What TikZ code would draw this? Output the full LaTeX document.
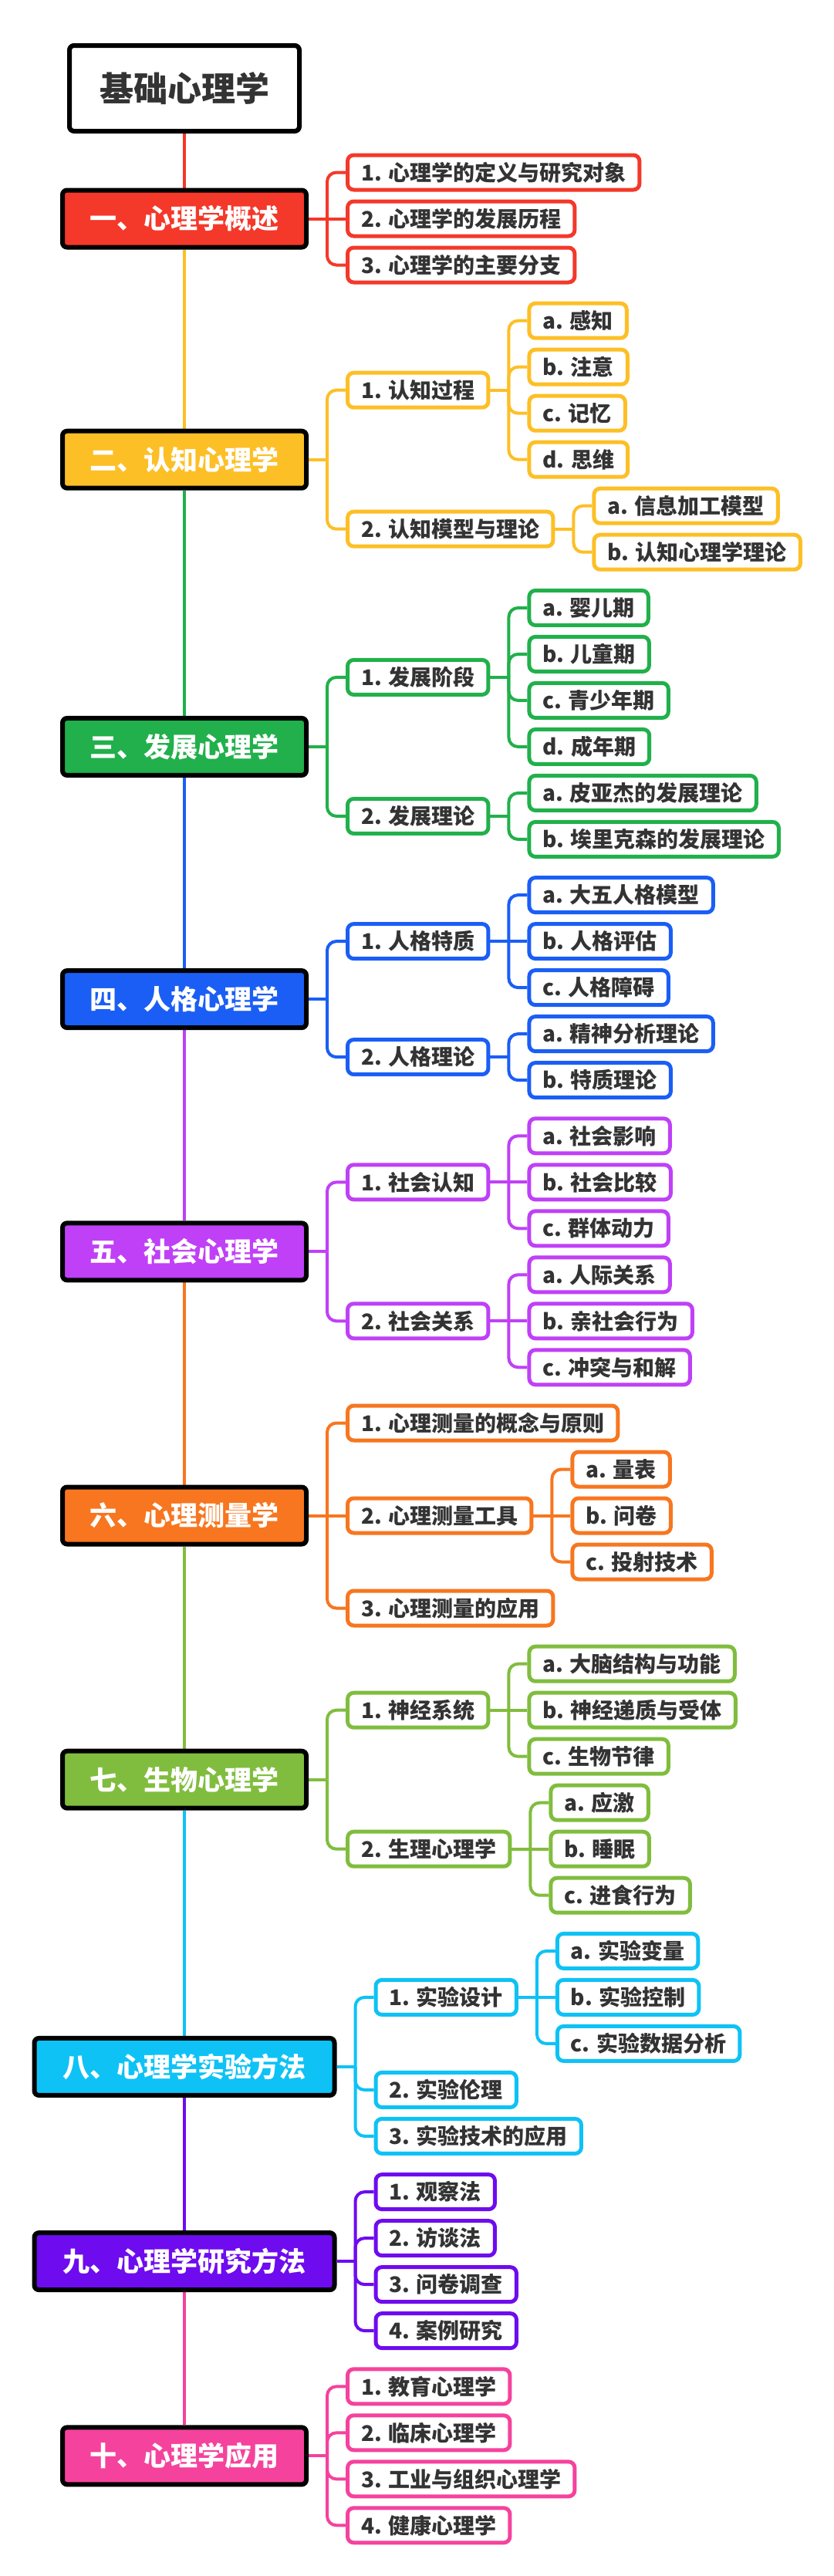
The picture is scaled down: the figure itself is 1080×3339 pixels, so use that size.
\documentclass[tikz,border=0pt]{standalone}
\usepackage{fontspec}
\newfontfamily\cjk{Noto Sans CJK SC}
\usetikzlibrary{backgrounds,calc}
\definecolor{txt}{HTML}{333333}
\definecolor{cA}{HTML}{F4382A}
\definecolor{cB}{HTML}{FDBF26}
\definecolor{cC}{HTML}{21B04B}
\definecolor{cD}{HTML}{1A5EF5}
\definecolor{cE}{HTML}{BF40F6}
\definecolor{cF}{HTML}{F7761F}
\definecolor{cG}{HTML}{80BD3E}
\definecolor{cH}{HTML}{0EC2F5}
\definecolor{cI}{HTML}{6E0BEF}
\definecolor{cJ}{HTML}{F5429D}
\tikzset{
  rootbox/.style={draw=black, line width=6pt, rounded corners=6pt, fill=white,
    minimum width=298pt, minimum height=111pt, inner sep=0pt,
    font=\cjk\bfseries\fontsize{44}{50}\selectfont, text=txt},
  mainbox/.style={draw=black, line width=6pt, rounded corners=6pt, fill=#1,
    minimum width=316pt, minimum height=74pt, inner sep=0pt,
    font=\cjk\bfseries\fontsize{35}{40}\selectfont, text=white},
  widebox/.style={mainbox=#1, minimum width=389pt},
  leafbox/.style={draw=#1, line width=5pt, rounded corners=8pt, fill=white,
    minimum height=45pt, inner xsep=17.5pt, inner ysep=0pt, anchor=west,
    font=\cjk\bfseries\fontsize{28}{32}\selectfont, text=txt},
  conn/.style={line width=4pt},
}
\newcommand{\Lb}[5]{\node[leafbox=#4, xshift=48pt] (#1) at (#2.east |- 0,#3) {#5};}
\newcommand{\Ln}[2]{\draw[conn] (#1.east) -- ++(24,0);
  \draw[conn, rounded corners=12pt] ($(#1.east)+(24,0)$) |- (#2.west);}
\newcommand{\Ls}[2]{\draw[conn] (#1.east) -- (#2.west);}
\begin{document}
\begin{tikzpicture}[x=1pt,y=-1pt]
\useasboundingbox (0,0) rectangle (1080,3339);
% root
\node[rootbox] (root) at (239,114.5) {基础心理学};
% group 1
\node[mainbox=cA] (m1) at (239,283.5) {一、心理学概述};
\Lb{m1a}{m1}{223.5}{cA}{1. 心理学的定义与研究对象}
\Lb{m1b}{m1}{283.5}{cA}{2. 心理学的发展历程}
\Lb{m1c}{m1}{343.5}{cA}{3. 心理学的主要分支}
% group 2
\node[mainbox=cB] (m2) at (239,595.7) {二、认知心理学};
\Lb{m2a}{m2}{505.7}{cB}{1. 认知过程}
\Lb{m2a1}{m2a}{415.7}{cB}{a. 感知}
\Lb{m2a2}{m2a}{475.7}{cB}{b. 注意}
\Lb{m2a3}{m2a}{535.7}{cB}{c. 记忆}
\Lb{m2a4}{m2a}{595.7}{cB}{d. 思维}
\Lb{m2b}{m2}{685.7}{cB}{2. 认知模型与理论}
\Lb{m2b1}{m2b}{655.7}{cB}{a. 信息加工模型}
\Lb{m2b2}{m2b}{715.7}{cB}{b. 认知心理学理论}
% group 3
\node[mainbox=cC] (m3) at (239,967.9) {三、发展心理学};
\Lb{m3a}{m3}{877.9}{cC}{1. 发展阶段}
\Lb{m3a1}{m3a}{787.9}{cC}{a. 婴儿期}
\Lb{m3a2}{m3a}{847.9}{cC}{b. 儿童期}
\Lb{m3a3}{m3a}{907.9}{cC}{c. 青少年期}
\Lb{m3a4}{m3a}{967.9}{cC}{d. 成年期}
\Lb{m3b}{m3}{1057.9}{cC}{2. 发展理论}
\Lb{m3b1}{m3b}{1027.9}{cC}{a. 皮亚杰的发展理论}
\Lb{m3b2}{m3b}{1087.9}{cC}{b. 埃里克森的发展理论}
% group 4
\node[mainbox=cD] (m4) at (239,1295.1) {四、人格心理学};
\Lb{m4a}{m4}{1220.1}{cD}{1. 人格特质}
\Lb{m4a1}{m4a}{1160.1}{cD}{a. 大五人格模型}
\Lb{m4a2}{m4a}{1220.1}{cD}{b. 人格评估}
\Lb{m4a3}{m4a}{1280.1}{cD}{c. 人格障碍}
\Lb{m4b}{m4}{1370.1}{cD}{2. 人格理论}
\Lb{m4b1}{m4b}{1340.1}{cD}{a. 精神分析理论}
\Lb{m4b2}{m4b}{1400.1}{cD}{b. 特质理论}
% group 5
\node[mainbox=cE] (m5) at (239,1622.3) {五、社会心理学};
\Lb{m5a}{m5}{1532.3}{cE}{1. 社会认知}
\Lb{m5a1}{m5a}{1472.3}{cE}{a. 社会影响}
\Lb{m5a2}{m5a}{1532.3}{cE}{b. 社会比较}
\Lb{m5a3}{m5a}{1592.3}{cE}{c. 群体动力}
\Lb{m5b}{m5}{1712.3}{cE}{2. 社会关系}
\Lb{m5b1}{m5b}{1652.3}{cE}{a. 人际关系}
\Lb{m5b2}{m5b}{1712.3}{cE}{b. 亲社会行为}
\Lb{m5b3}{m5b}{1772.3}{cE}{c. 冲突与和解}
% group 6
\node[mainbox=cF] (m6) at (239,1964.5) {六、心理测量学};
\Lb{m6a}{m6}{1844.5}{cF}{1. 心理测量的概念与原则}
\Lb{m6b}{m6}{1964.5}{cF}{2. 心理测量工具}
\Lb{m6b1}{m6b}{1904.5}{cF}{a. 量表}
\Lb{m6b2}{m6b}{1964.5}{cF}{b. 问卷}
\Lb{m6b3}{m6b}{2024.5}{cF}{c. 投射技术}
\Lb{m6c}{m6}{2084.5}{cF}{3. 心理测量的应用}
% group 7
\node[mainbox=cG] (m7) at (239,2306.7) {七、生物心理学};
\Lb{m7a}{m7}{2216.7}{cG}{1. 神经系统}
\Lb{m7a1}{m7a}{2156.7}{cG}{a. 大脑结构与功能}
\Lb{m7a2}{m7a}{2216.7}{cG}{b. 神经递质与受体}
\Lb{m7a3}{m7a}{2276.7}{cG}{c. 生物节律}
\Lb{m7b}{m7}{2396.7}{cG}{2. 生理心理学}
\Lb{m7b1}{m7b}{2336.7}{cG}{a. 应激}
\Lb{m7b2}{m7b}{2396.7}{cG}{b. 睡眠}
\Lb{m7b3}{m7b}{2456.7}{cG}{c. 进食行为}
% group 8
\node[widebox=cH] (m8) at (239,2678.9) {八、心理学实验方法};
\Lb{m8a}{m8}{2588.9}{cH}{1. 实验设计}
\Lb{m8a1}{m8a}{2528.9}{cH}{a. 实验变量}
\Lb{m8a2}{m8a}{2588.9}{cH}{b. 实验控制}
\Lb{m8a3}{m8a}{2648.9}{cH}{c. 实验数据分析}
\Lb{m8b}{m8}{2708.9}{cH}{2. 实验伦理}
\Lb{m8c}{m8}{2768.9}{cH}{3. 实验技术的应用}
% group 9
\node[widebox=cI] (m9) at (239,2931.1) {九、心理学研究方法};
\Lb{m9a}{m9}{2841.1}{cI}{1. 观察法}
\Lb{m9b}{m9}{2901.1}{cI}{2. 访谈法}
\Lb{m9c}{m9}{2961.1}{cI}{3. 问卷调查}
\Lb{m9d}{m9}{3021.1}{cI}{4. 案例研究}
% group 10
\node[mainbox=cJ] (m10) at (239,3183.3) {十、心理学应用};
\Lb{m10a}{m10}{3093.3}{cJ}{1. 教育心理学}
\Lb{m10b}{m10}{3153.3}{cJ}{2. 临床心理学}
\Lb{m10c}{m10}{3213.3}{cJ}{3. 工业与组织心理学}
\Lb{m10d}{m10}{3273.3}{cJ}{4. 健康心理学}

\begin{scope}[on background layer]
\fill[white] (0,0) rectangle (1080,3339);
% spine
\draw[conn,cA] (root.south) -- (m1.north);
\draw[conn,cB] (m1.south) -- (m2.north);
\draw[conn,cC] (m2.south) -- (m3.north);
\draw[conn,cD] (m3.south) -- (m4.north);
\draw[conn,cE] (m4.south) -- (m5.north);
\draw[conn,cF] (m5.south) -- (m6.north);
\draw[conn,cG] (m6.south) -- (m7.north);
\draw[conn,cH] (m7.south) -- (m8.north);
\draw[conn,cI] (m8.south) -- (m9.north);
\draw[conn,cJ] (m9.south) -- (m10.north);
% group connectors
\begin{scope}[color=cA]
\Ln{m1}{m1a} \Ls{m1}{m1b} \Ln{m1}{m1c}
\end{scope}
\begin{scope}[color=cB]
\Ln{m2}{m2a} \Ln{m2}{m2b}
\Ln{m2a}{m2a1} \Ln{m2a}{m2a2} \Ln{m2a}{m2a3} \Ln{m2a}{m2a4}
\Ln{m2b}{m2b1} \Ln{m2b}{m2b2}
\end{scope}
\begin{scope}[color=cC]
\Ln{m3}{m3a} \Ln{m3}{m3b}
\Ln{m3a}{m3a1} \Ln{m3a}{m3a2} \Ln{m3a}{m3a3} \Ln{m3a}{m3a4}
\Ln{m3b}{m3b1} \Ln{m3b}{m3b2}
\end{scope}
\begin{scope}[color=cD]
\Ln{m4}{m4a} \Ln{m4}{m4b}
\Ln{m4a}{m4a1} \Ls{m4a}{m4a2} \Ln{m4a}{m4a3}
\Ln{m4b}{m4b1} \Ln{m4b}{m4b2}
\end{scope}
\begin{scope}[color=cE]
\Ln{m5}{m5a} \Ln{m5}{m5b}
\Ln{m5a}{m5a1} \Ls{m5a}{m5a2} \Ln{m5a}{m5a3}
\Ln{m5b}{m5b1} \Ls{m5b}{m5b2} \Ln{m5b}{m5b3}
\end{scope}
\begin{scope}[color=cF]
\Ln{m6}{m6a} \Ls{m6}{m6b} \Ln{m6}{m6c}
\Ln{m6b}{m6b1} \Ls{m6b}{m6b2} \Ln{m6b}{m6b3}
\end{scope}
\begin{scope}[color=cG]
\Ln{m7}{m7a} \Ln{m7}{m7b}
\Ln{m7a}{m7a1} \Ls{m7a}{m7a2} \Ln{m7a}{m7a3}
\Ln{m7b}{m7b1} \Ls{m7b}{m7b2} \Ln{m7b}{m7b3}
\end{scope}
\begin{scope}[color=cH]
\Ln{m8}{m8a} \Ln{m8}{m8b} \Ln{m8}{m8c}
\Ln{m8a}{m8a1} \Ls{m8a}{m8a2} \Ln{m8a}{m8a3}
\end{scope}
\begin{scope}[color=cI]
\Ln{m9}{m9a} \Ln{m9}{m9b} \Ln{m9}{m9c} \Ln{m9}{m9d}
\end{scope}
\begin{scope}[color=cJ]
\Ln{m10}{m10a} \Ln{m10}{m10b} \Ln{m10}{m10c} \Ln{m10}{m10d}
\end{scope}
\end{scope}
\end{tikzpicture}
\end{document}
